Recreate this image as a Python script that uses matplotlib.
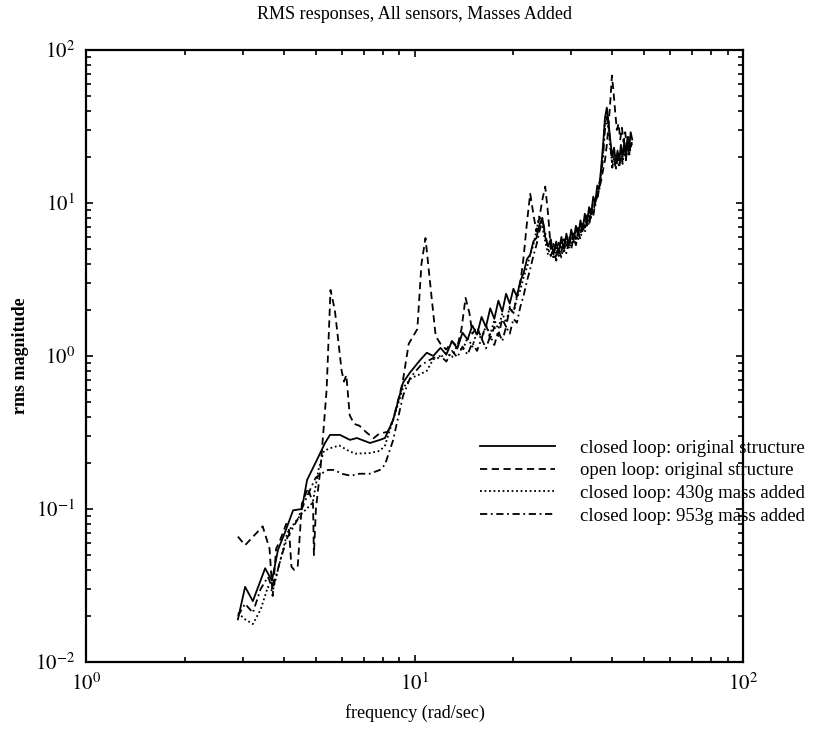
import matplotlib
matplotlib.use("Agg")
import matplotlib.pyplot as plt
from matplotlib.ticker import LogLocator, FixedLocator, FixedFormatter, NullFormatter

plt.rcParams["font.family"] = ["Liberation Serif", "DejaVu Serif"]
plt.rcParams["mathtext.fontset"] = "stix"

# shared frequency samples above 12 rad/s for the closed-loop runs
freq_hi = [12.0, 12.5, 13.0, 13.5, 14.0, 14.5, 15.0, 15.5, 16.0, 16.5, 17.0, 17.5,
           18.0, 18.5, 19.0, 19.5, 20.0, 20.5, 21.0, 21.5, 22.0, 22.5, 23.0, 23.5,
           24.0, 24.5, 25.0, 25.5, 26.0, 26.5, 27.0, 27.5, 28.0, 28.5, 29.0, 29.5,
           30.0, 30.5, 31.0, 31.5, 32.0, 32.5, 33.0, 33.5, 34.0, 34.5, 35.0, 35.5,
           36.0, 36.5, 37.0, 37.5, 38.0, 38.5, 39.0, 39.5, 40.0, 40.5, 41.0, 41.5,
           42.0, 42.5, 43.0, 43.5, 44.0, 44.5, 45.0, 45.5, 46.0]

# closed loop, original structure
freq_cl_lo = [2.90, 3.05, 3.22, 3.51, 3.68, 3.84, 4.03, 4.27, 4.54, 4.71, 5.05, 5.34,
              5.53, 5.93, 6.36, 6.68, 7.32, 7.85, 8.13, 8.60, 9.23, 9.69, 10.4, 10.9, 11.4]
rms_cl_lo = [0.019, 0.031, 0.025, 0.041, 0.034, 0.054, 0.070, 0.098, 0.100, 0.155, 0.21, 0.27,
             0.305, 0.305, 0.283, 0.291, 0.270, 0.283, 0.291, 0.38, 0.67, 0.78, 0.94, 1.05, 1.00]
rms_cl_hi = [1.13, 1.02, 1.25, 1.12, 1.42, 1.28, 1.58, 1.38, 1.80, 1.55, 2.05, 1.75,
             2.30, 1.95, 2.55, 2.20, 2.75, 2.45, 3.10, 3.50, 4.30, 4.60, 5.60, 5.90,
             7.20, 8.00, 6.00, 5.20, 5.80, 4.60, 5.60, 4.70, 6.00, 5.00, 6.30, 5.30,
             6.70, 5.70, 7.10, 6.10, 7.70, 6.70, 8.50, 7.40, 9.40, 8.40, 11.0, 10.0,
             13.0, 12.5, 17.0, 24.0, 36.0, 42.0, 33.0, 25.0, 20.0, 23.0, 18.5, 22.0,
             19.0, 24.0, 20.0, 25.0, 21.0, 27.0, 22.0, 29.0, 26.0]

# open loop, original structure
freq_ol = [2.90, 3.05, 3.45, 3.62, 3.70, 3.79, 3.87, 4.07, 4.15, 4.22, 4.30, 4.41,
           4.54, 4.74, 4.91, 4.94, 5.01, 5.18, 5.40, 5.55, 5.72, 6.00, 6.10, 6.20,
           6.35, 6.55, 6.80, 7.10, 7.50, 7.80, 8.30, 8.60, 9.20, 9.60, 10.2, 10.5,
           10.8, 11.3, 11.6, 12.0, 12.5, 13.0, 13.5, 13.9, 14.3, 14.7, 15.0, 15.5,
           16.0, 16.5, 17.0, 17.5, 18.0, 18.5, 19.0, 19.5, 20.0, 20.5, 21.0, 21.5,
           22.0, 22.5, 23.0, 23.5, 24.0, 24.5, 25.0, 25.5, 26.0, 26.5, 27.0, 27.5,
           28.0, 28.5, 29.0, 29.5, 30.0, 30.5, 31.0, 31.5, 32.0, 32.5, 33.0, 33.5,
           34.0, 34.5, 35.0, 35.5, 36.0, 36.5, 37.0, 37.5, 38.0, 38.5, 39.0, 39.5,
           39.9, 40.3, 40.8, 41.3, 41.8, 42.3, 42.8, 43.3, 43.8, 44.3, 44.8, 45.3, 45.9]
rms_ol = [0.066, 0.058, 0.077, 0.055, 0.027, 0.055, 0.060, 0.080, 0.073, 0.042, 0.040, 0.042,
          0.108, 0.137, 0.108, 0.050, 0.100, 0.19, 0.60, 2.70, 2.00, 0.80, 0.68, 0.75,
          0.41, 0.36, 0.35, 0.32, 0.29, 0.31, 0.32, 0.38, 0.67, 1.20, 1.50, 4.00,
          5.90, 2.30, 1.35, 1.20, 1.10, 1.25, 1.15, 1.50, 2.40, 1.90, 1.40, 1.55,
          1.30, 1.60, 1.30, 1.55, 1.35, 1.75, 1.55, 2.05, 1.90, 2.50, 3.00, 4.50,
          7.50, 11.5, 8.50, 6.50, 8.00, 10.5, 12.8, 8.50, 5.00, 5.40, 4.50, 5.50,
          4.80, 5.80, 5.10, 6.10, 5.40, 6.50, 5.80, 6.90, 6.30, 7.50, 6.90, 8.30,
          7.60, 9.20, 8.60, 10.3, 10.5, 12.5, 14.0, 16.5, 19.0, 24.0, 33.0, 48.0,
          68.0, 55.0, 40.0, 30.0, 33.0, 26.0, 31.0, 25.0, 29.0, 23.0, 27.0, 22.0, 25.0]

# closed loop, 430 g mass added
freq_430_lo = [2.90, 3.05, 3.22, 3.40, 3.58, 3.70, 3.84, 4.10, 4.51, 4.90, 5.10, 5.30,
               5.55, 5.90, 6.30, 6.60, 7.30, 7.85, 8.13, 8.60, 9.23, 9.80, 10.4, 10.9, 11.4]
rms_430_lo = [0.021, 0.019, 0.0177, 0.022, 0.031, 0.029, 0.040, 0.070, 0.092, 0.110, 0.18, 0.24,
              0.25, 0.26, 0.24, 0.23, 0.232, 0.24, 0.26, 0.38, 0.62, 0.72, 0.76, 0.80, 0.95]
rms_430_hi = [0.98, 1.05, 0.98, 1.18, 1.08, 1.32, 1.15, 1.45, 1.28, 1.58, 1.38, 1.72,
              1.50, 1.90, 1.65, 2.10, 1.90, 2.40, 2.70, 3.30, 3.80, 4.60, 5.30, 6.60,
              8.30, 7.00, 5.60, 4.60, 5.30, 4.30, 5.10, 4.50, 5.50, 4.70, 5.90, 5.10,
              6.30, 5.40, 6.70, 5.80, 7.30, 6.40, 8.10, 7.10, 9.00, 8.00, 10.5, 9.50,
              12.5, 12.0, 16.0, 22.0, 34.0, 39.0, 30.0, 22.0, 18.0, 21.0, 17.0, 20.0,
              17.5, 22.0, 18.5, 23.0, 19.5, 24.0, 20.5, 25.0, 24.0]

# closed loop, 953 g mass added
freq_953_lo = [2.90, 3.05, 3.22, 3.40, 3.58, 3.70, 3.90, 4.10, 4.40, 4.70, 5.00, 5.20,
               5.45, 5.70, 6.00, 6.40, 6.80, 7.30, 7.85, 8.13, 8.60, 9.23, 9.70, 10.4,
               10.9, 11.4]
rms_953_lo = [0.020, 0.024, 0.021, 0.030, 0.036, 0.030, 0.046, 0.065, 0.085, 0.120, 0.16, 0.17,
              0.18, 0.18, 0.17, 0.165, 0.17, 0.17, 0.18, 0.195, 0.28, 0.55, 0.72, 0.86,
              0.92, 0.97]
rms_953_hi = [1.00, 0.92, 1.08, 0.98, 1.15, 1.02, 1.22, 1.08, 1.30, 1.12, 1.35, 1.18,
              1.45, 1.25, 1.55, 1.40, 1.75, 1.65, 2.10, 2.50, 3.10, 3.70, 4.50, 5.30,
              6.50, 7.80, 6.40, 5.00, 4.50, 5.00, 4.20, 4.90, 4.40, 5.30, 4.70, 5.60,
              5.00, 6.00, 5.30, 6.40, 5.80, 7.00, 6.40, 7.80, 7.10, 8.70, 8.20, 10.0,
              11.0, 13.5, 15.0, 20.0, 30.0, 36.0, 31.0, 24.0, 17.0, 20.0, 16.5, 19.5,
              17.0, 21.0, 18.0, 22.5, 19.0, 23.5, 20.0, 24.0, 23.0]

labels = ["closed loop: original structure",
          "open loop: original structure",
          "closed loop: 430g mass added",
          "closed loop: 953g mass added"]

fig = plt.figure(figsize=(8.13, 7.46), dpi=100)
ax = fig.add_axes([0.1058, 0.1126, 0.8081, 0.8204])

lw = 1.3
ax.plot(freq_cl_lo + freq_hi, rms_cl_lo + rms_cl_hi, color="black", lw=lw,
        linestyle="-", label=labels[0])
ax.plot(freq_ol, rms_ol, color="black", lw=lw, linestyle=(0, (4, 2.5)), label=labels[1])
ax.plot(freq_430_lo + freq_hi, rms_430_lo + rms_430_hi, color="black", lw=lw,
        linestyle=(0, (1, 1.5)), label=labels[2])
ax.plot(freq_953_lo + freq_hi, rms_953_lo + rms_953_hi, color="black", lw=lw,
        linestyle=(0, (4, 2, 1, 2)), label=labels[3])

ax.set_xscale("log")
ax.set_yscale("log")
ax.set_xlim(1, 100)
ax.set_ylim(0.01, 100)

xt = [1, 10, 100]
ax.xaxis.set_major_locator(FixedLocator(xt))
ax.xaxis.set_major_formatter(FixedFormatter([r"$10^{0}$", r"$10^{1}$", r"$10^{2}$"]))
yt = [0.01, 0.1, 1, 10, 100]
ax.yaxis.set_major_locator(FixedLocator(yt))
ax.yaxis.set_major_formatter(FixedFormatter([r"$10^{-2}$", r"$10^{-1}$", r"$10^{0}$",
                                             r"$10^{1}$", r"$10^{2}$"]))
for axis in (ax.xaxis, ax.yaxis):
    axis.set_minor_locator(LogLocator(base=10, subs=range(2, 10), numticks=20))
    axis.set_minor_formatter(NullFormatter())

ax.tick_params(which="both", direction="in", top=True, right=True, width=1.2)
ax.tick_params(which="major", length=5, labelsize=15, pad=8)
ax.tick_params(which="minor", length=3.5)
for s in ax.spines.values():
    s.set_linewidth(1.6)

ax.set_title("RMS responses, All sensors, Masses Added", fontsize=13, pad=22)
ax.set_xlabel("frequency (rad/sec)", fontsize=13, labelpad=7)
ax.set_ylabel("rms magnitude", fontsize=13, fontweight="bold")
ax.yaxis.set_label_coords(-0.087, 0.5)

leg = fig.legend(loc="upper left", bbox_to_anchor=(0.590, 0.411), frameon=False,
                 fontsize=13.5, handlelength=4.0, handletextpad=1.33,
                 labelspacing=0.3, borderpad=0, borderaxespad=0)

fig.savefig("out.png", dpi=100)
